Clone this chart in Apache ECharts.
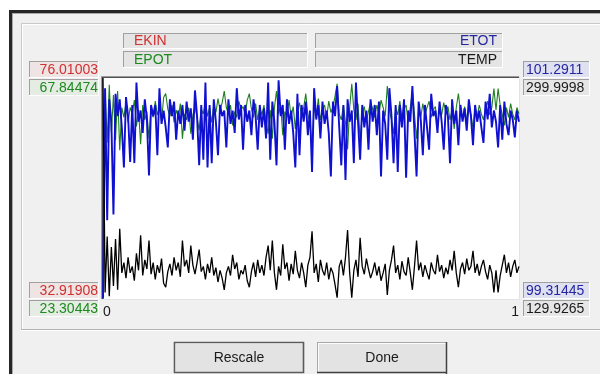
<!DOCTYPE html>
<html><head><meta charset="utf-8">
<script src="https://cdn.jsdelivr.net/npm/echarts@6/dist/echarts.min.js"></script>
<style>html,body{margin:0;padding:0;background:#fff;overflow:hidden}#c{width:600px;height:374px}</style>
</head><body><div id="c"></div>
<script>
// ---- data ----
const seriesNames = ['EKIN', 'EPOT', 'ETOT', 'TEMP'];
const ekinRange = [32.91908, 76.01003];
const epotRange = [23.30443, 67.84474];
const etotRange = [99.31445, 101.2911];
const tempRange = [129.9265, 299.9998];
const xTickLabels = ['0', '1'];
const buttonLabels = ['Rescale', 'Done'];

const temp = [
300,135,178,132,170,140,176,137,184,150,
158,146,162,150,155,144,165,152,179,148,
160,153,175,149,158,145,156,150,161,142,
139,151,157,148,162,152,158,147,175,155,
160,150,171,156,149,158,168,151,155,145,
157,150,162,148,154,143,152,146,137,150,
155,148,164,153,158,145,152,149,156,144,
139,151,158,147,160,150,156,148,162,171,
152,175,150,137,155,148,172,153,158,144,
157,149,167,152,146,158,150,139,156,162,
182,150,157,143,160,152,148,158,145,154,
150,141,131,155,160,148,162,183,150,131,
152,160,147,177,155,149,161,153,146,151,
158,148,155,144,150,157,133,152,160,171,
150,156,145,159,151,148,162,150,137,155,
175,152,158,147,156,150,145,158,152,149,
164,151,156,146,154,149,160,152,167,150,
139,153,158,149,161,152,155,167,150,157,
148,155,160,151,145,156,150,135,152,135,
148,156,164,150,158,147,155,160,150,155
];
const epot = [
23.3,65.7,54.8,66.5,56.8,64.4,55.3,65.2,53.3,61.9,
59.9,62.9,58.9,61.9,60.6,63.4,58.1,61.4,54.5,62.4,
59.4,61.1,55.6,62.1,59.9,63.2,60.4,61.9,59.1,63.9,
64.7,61.6,60.1,62.4,58.9,61.4,59.9,62.7,55.6,60.6,
59.4,61.9,56.6,60.4,62.1,59.9,57.3,61.6,60.6,63.2,
60.1,61.9,58.9,62.4,60.9,63.7,61.4,62.9,65.2,61.9,
60.6,62.4,58.3,61.1,59.9,63.2,61.4,62.1,60.4,63.4,
64.7,61.6,59.9,62.7,59.4,61.9,60.4,62.4,58.9,56.6,
61.4,55.6,61.9,65.2,60.6,62.4,56.3,61.1,59.9,63.4,
60.1,62.1,57.6,61.4,62.9,59.9,61.9,64.7,60.4,58.9,
53.8,61.9,60.1,63.7,59.4,61.4,62.4,59.9,63.2,60.9,
61.9,64.2,66.7,60.6,59.4,62.4,58.9,53.5,61.9,66.7,
61.4,59.4,62.7,55.1,60.6,62.1,59.1,61.1,62.9,61.6,
59.9,62.4,60.6,63.4,61.9,60.1,66.2,61.4,59.4,56.6,
61.9,60.4,63.2,59.6,61.6,62.4,58.9,61.9,65.2,60.6,
55.6,61.4,59.9,62.7,60.4,61.9,63.2,59.9,61.4,62.1,
58.3,61.6,60.4,62.9,60.9,62.1,59.4,61.4,57.6,61.9,
64.7,61.1,59.9,62.1,59.1,61.4,60.6,57.6,61.9,60.1,
62.4,60.6,59.4,61.6,63.2,60.4,61.9,65.7,61.4,65.7,
62.4,60.4,58.3,61.9,59.9,62.7,60.6,59.4,61.9,60.6
];
const etot = [
99.32,101.2,100.02,101.1,100.9,100.07,101.15,100.95,101.1,100.85,
100.49,101.12,100.95,100.54,101.05,100.53,101.25,100.9,101.0,100.8,
101.1,100.92,100.42,101.05,100.95,101.05,100.6,101.2,100.88,101.0,
100.85,100.67,101.1,100.95,101.08,100.74,101.0,100.88,101.05,100.82,
101.08,100.9,101.02,100.74,101.18,100.95,100.51,101.05,100.56,101.25,
100.49,101.05,100.53,101.1,100.9,100.6,101.05,100.95,101.0,100.67,
101.1,100.88,101.0,100.8,101.2,100.92,101.05,100.65,101.05,100.9,
101.0,100.78,101.1,100.95,100.65,101.05,100.85,101.02,100.75,101.25,
100.56,101.08,100.9,100.51,101.27,100.95,101.05,100.65,101.1,100.88,
101.0,100.8,100.49,101.15,100.6,101.05,100.9,101.08,100.78,101.0,
100.45,101.2,100.92,101.05,100.75,101.08,100.88,101.0,100.8,100.41,
101.08,100.95,101.22,100.85,100.51,101.05,100.38,101.1,100.9,101.0,
100.53,101.25,100.9,100.56,101.05,100.85,101.0,100.65,101.1,100.9,
101.05,100.78,101.08,100.41,101.0,100.88,100.56,101.2,100.95,100.53,
101.05,100.45,101.05,100.85,101.1,100.4,101.0,100.9,101.22,100.8,
100.41,101.08,100.92,100.6,101.05,100.85,100.65,101.15,100.95,101.0,
100.8,101.08,100.9,100.65,101.05,100.95,100.53,101.1,100.88,101.0,
100.69,101.05,100.9,101.02,100.82,101.1,100.95,100.69,101.05,100.9,
101.0,100.85,100.71,101.08,100.92,101.15,100.85,101.0,100.9,100.67,
101.05,100.74,101.08,100.88,100.78,101.0,100.92,100.76,101.0,100.9
];

// ---- styling / layout ----
const FF = '"Liberation Sans", Arial, sans-serif';
const FONT = '14px ' + FF;
const COL = { EKIN: '#d03030', EPOT: '#1e8a1e', ETOT: '#2626a0', TEMP: '#1a1a1a' };
const LINECOL = { EPOT: '#1f7f1f', ETOT: '#1010d0', TEMP: '#000000' };
const PLOT = { x: 103, y: 78, w: 416, h: 221 };

const G = [];
function rect(x, y, w, h, fill, z, stroke, lw) {
  G.push({ type: 'rect', silent: true, z: z || 0, shape: { x: x, y: y, width: w, height: h },
    style: { fill: fill || 'none', stroke: stroke || 'none', lineWidth: lw || 0 } });
}
function line(x1, y1, x2, y2, color, w, z) {
  G.push({ type: 'line', silent: true, z: z || 0, shape: { x1: x1, y1: y1, x2: x2, y2: y2 },
    style: { stroke: color, lineWidth: w || 1 } });
}
function text(x, y, t, color, align, z) {
  G.push({ type: 'text', silent: true, z: z || 1, x: x, y: y,
    style: { text: t, fill: color, font: FONT, align: align, verticalAlign: 'middle',
      textAlign: align, textVerticalAlign: 'middle' } });
}
function sunken(x, y, w, h, fill) {
  rect(x, y, w, h, fill, 0);
  line(x, y + 0.5, x + w, y + 0.5, '#a0a0a0', 1, 1);
  line(x + 0.5, y, x + 0.5, y + h, '#a0a0a0', 1, 1);
  line(x, y + h - 0.5, x + w, y + h - 0.5, '#ffffff', 1, 1);
  line(x + w - 0.5, y, x + w - 0.5, y + h, '#ffffff', 1, 1);
}

// window frame and dialog background
rect(9, 10, 600, 370, '#f0f0f0', -1);
rect(9, 10, 600, 3, '#262626', 0);
rect(9, 10, 3, 370, '#262626', 0);
line(12, 13.5, 600, 13.5, '#a9a9a9', 1, 0);
line(12.5, 13, 12.5, 374, '#a9a9a9', 1, 0);
// group box (etched)
line(21, 23.5, 600, 23.5, '#c9c9c9', 1, 0);
line(22, 24.5, 600, 24.5, '#ffffff', 1, 0);
line(21.5, 23, 21.5, 330, '#c9c9c9', 1, 0);
line(22.5, 24, 22.5, 329, '#ffffff', 1, 0);
line(21, 329.5, 600, 329.5, '#b4b4b4', 1, 0);
line(21, 330.5, 600, 330.5, '#ffffff', 1, 0);

// legend boxes
sunken(123, 33, 185, 16, '#e4e4e4');
sunken(123, 51, 185, 17, '#e4e4e4');
sunken(315, 33, 188, 16, '#e4e4e4');
sunken(315, 51, 188, 17, '#e4e4e4');
text(134, 41.5, seriesNames[0], COL.EKIN, 'left');
text(134, 60, seriesNames[1], COL.EPOT, 'left');
text(497, 41.5, seriesNames[2], COL.ETOT, 'right');
text(497, 60, seriesNames[3], COL.TEMP, 'right');

// range value boxes
const leftBoxes = [
  [61, ekinRange[1], COL.EKIN, '#eee4e4'], [79, epotRange[1], COL.EPOT, '#e4ece4'],
  [282, ekinRange[0], COL.EKIN, '#eee4e4'], [300, epotRange[0], COL.EPOT, '#e4ece4']
];
leftBoxes.forEach(function (b) { sunken(29, b[0], 70, 17, b[3]); text(98, b[0] + 9, String(b[1]), b[2], 'right'); });
const rightBoxes = [
  [61, etotRange[1], COL.ETOT, '#dfe1f1'], [79, tempRange[1], COL.TEMP, '#e6e6e6'],
  [282, etotRange[0], COL.ETOT, '#dfe1f1'], [300, tempRange[0], COL.TEMP, '#e6e6e6']
];
rightBoxes.forEach(function (b) { sunken(523, b[0], 67, 17, b[3]); text(526, b[0] + 9, String(b[1]), b[2], 'left'); });

// plot area background + sunken frame
rect(PLOT.x, PLOT.y, PLOT.w, PLOT.h, '#ffffff', 0);
line(101, 76.5, PLOT.x + PLOT.w + 1, 76.5, '#9a9a9a', 1, 1);
line(102, 77.5, PLOT.x + PLOT.w, 77.5, '#505050', 1, 1);
line(101.5, 76, 101.5, PLOT.y + PLOT.h + 1, '#9a9a9a', 1, 1);
line(102.5, 77, 102.5, PLOT.y + PLOT.h, '#505050', 1, 1);
line(101, PLOT.y + PLOT.h + 0.5, PLOT.x + PLOT.w + 1, PLOT.y + PLOT.h + 0.5, '#e3e3e3', 1, 1);
line(PLOT.x + PLOT.w + 0.5, 76, PLOT.x + PLOT.w + 0.5, PLOT.y + PLOT.h + 1, '#e3e3e3', 1, 1);

// buttons
function button(x, label, heavy) {
  rect(x, 342, 130, 31, '#e3e3e3', 0);
  line(x + 1, 343.5, x + 129, 343.5, '#fbfbfb', 1, 1);
  line(x + 1.5, 343, x + 1.5, 372, '#fbfbfb', 1, 1);
  if (heavy) {
    rect(x + 0.5, 342.5, 129, 30, 'none', 1, '#5c5c5c', 1.6);
  } else {
    line(x, 342.5, x + 130, 342.5, '#a8a8a8', 1, 1);
    line(x + 0.5, 342, x + 0.5, 373, '#a8a8a8', 1, 1);
    line(x + 129.5, 342, x + 129.5, 374, '#404040', 1.5, 1);
    line(x, 372.5, x + 130, 372.5, '#404040', 1.5, 1);
  }
  text(x + 65, 358, label, '#1a1a1a', 'center');
}
button(174, buttonLabels[0], true);
button(317, buttonLabels[1], false);

// ---- chart ----
function pts(arr) { return arr.map(function (v, i) { return [i / (arr.length - 1), v]; }); }
function yAx(r) { return { type: 'value', min: r[0], max: r[1], show: false, scale: true }; }

const chart = echarts.init(document.getElementById('c'), null, { renderer: 'canvas' });
chart.setOption({
  animation: false,
  backgroundColor: 'transparent',
  grid: { left: PLOT.x, top: PLOT.y, width: PLOT.w, height: PLOT.h, containLabel: false },
  xAxis: {
    type: 'value', min: 0, max: 1, interval: 1, z: 10,
    axisLine: { show: false }, axisTick: { show: false }, splitLine: { show: false },
    axisLabel: {
      show: true, margin: 6, color: '#1a1a1a', fontSize: 14, fontFamily: FF,
      showMinLabel: true, showMaxLabel: true,
      alignMinLabel: 'left', alignMaxLabel: 'right',
      formatter: function (v) { return v === 0 ? xTickLabels[0] : xTickLabels[1]; }
    }
  },
  yAxis: [yAx(epotRange), yAx(etotRange), yAx(tempRange)],
  graphic: { elements: G },
  series: [
    { name: seriesNames[1], type: 'line', yAxisIndex: 0, data: pts(epot), showSymbol: false, z: 5,
      lineStyle: { color: LINECOL.EPOT, width: 1.1 }, itemStyle: { color: LINECOL.EPOT } },
    { name: seriesNames[2], type: 'line', yAxisIndex: 1, data: pts(etot), showSymbol: false, z: 6,
      lineStyle: { color: LINECOL.ETOT, width: 1.9 }, itemStyle: { color: LINECOL.ETOT } },
    { name: seriesNames[3], type: 'line', yAxisIndex: 2, data: pts(temp), showSymbol: false, z: 7,
      lineStyle: { color: LINECOL.TEMP, width: 1.3 }, itemStyle: { color: LINECOL.TEMP } }
  ]
});
</script>
</body></html>
